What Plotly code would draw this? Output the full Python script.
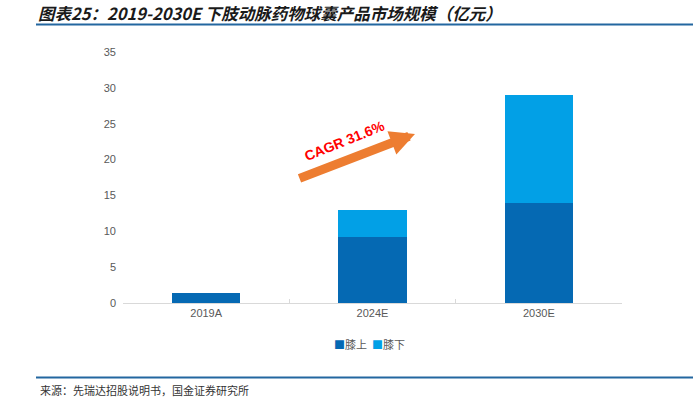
import plotly.graph_objects as go

categories = ["2019A", "2024E", "2030E"]
above_knee = [1.4, 9.2, 13.9]   # 膝上
below_knee = [0.0, 3.8, 15.1]   # 膝下
series_names = ["膝上", "膝下"]
colors = ["#0569B3", "#02A0E6"]
y_ticks = [0, 5, 10, 15, 20, 25, 30, 35]

title_text = "图表25：2019-2030E 下肢动脉药物球囊产品市场规模（亿元）"
source_text = "来源：先瑞达招股说明书，国金证券研究所"
cagr_text = "CAGR 31.6%"

W, H = 693, 398
L, R, T, B = 123, 71, 52, 95

fig = go.Figure()
fig.add_trace(go.Bar(x=categories, y=above_knee, name=series_names[0],
                     marker=dict(color=colors[0], line=dict(width=0)), showlegend=False))
fig.add_trace(go.Bar(x=categories, y=below_knee, name=series_names[1],
                     marker=dict(color=colors[1], line=dict(width=0)), showlegend=False))

tick_font = dict(family="Liberation Sans, Arial, sans-serif", size=11, color="#595959")

fig.update_layout(
    width=W, height=H,
    margin=dict(l=L, r=R, t=T, b=B, pad=0),
    barmode="stack",
    bargap=0.59,
    plot_bgcolor="white", paper_bgcolor="white",
    xaxis=dict(showline=True, linecolor="#D9D9D9", linewidth=1,
               ticks="inside", ticklen=4, tickcolor="#D9D9D9",
               tickson="boundaries", tickfont=tick_font, showgrid=False),
    yaxis=dict(range=[0, 35], tickvals=y_ticks, showgrid=False, zeroline=False,
               showline=False, tickfont=tick_font, ticks="", ticklabelstandoff=6),
)

def px2paper(px, py):
    return (px - L) / (W - L - R), (H - B - py) / (H - T - B)

# title
tx, ty = px2paper(36, 13)
fig.add_annotation(text="<b><i>" + title_text + "</i></b>", xref="paper", yref="paper",
                   x=tx, y=ty, xanchor="left", yanchor="middle", showarrow=False,
                   font=dict(family="Noto Sans CJK SC", size=16.5, color="#1a1a1a"))

# lines under title and above source
for ly in (24.5, 377.5):
    x0, y0 = px2paper(36, ly)
    x1, _ = px2paper(693, ly)
    fig.add_shape(type="line", xref="paper", yref="paper", x0=x0, x1=x1, y0=y0, y1=y0,
                  line=dict(color="#2367A0", width=2))

# source
sx, sy = px2paper(38, 390)
fig.add_annotation(text=source_text, xref="paper", yref="paper", x=sx, y=sy,
                   xanchor="left", yanchor="middle", showarrow=False,
                   font=dict(family="Noto Sans CJK SC", size=11, color="#333333"))

# legend as text
lx, ly = px2paper(369, 344)
legend_html = ("<span style='color:%s'>■</span>%s  <span style='color:%s'>■</span>%s"
               % (colors[0], series_names[0], colors[1], series_names[1]))
fig.add_annotation(text=legend_html, xref="paper", yref="paper", x=lx, y=ly,
                   xanchor="center", yanchor="middle", showarrow=False,
                   font=dict(family="Noto Sans CJK SC", size=11, color="#595959"))

# CAGR arrow
hx, hy = px2paper(415, 134)
fig.add_annotation(text="", xref="paper", yref="paper", x=hx, y=hy,
                   ax=-117, ay=45, showarrow=True, arrowhead=2, arrowsize=0.55,
                   arrowwidth=9, arrowcolor="#ED7D31", standoff=0)
cx, cy = px2paper(344, 141)
fig.add_annotation(text="<b>" + cagr_text + "</b>", xref="paper", yref="paper", x=cx, y=cy,
                   showarrow=False, textangle=-22,
                   font=dict(family="Liberation Sans, Arial, sans-serif", size=14, color="#FF0000"))

fig.write_html("out.html", config={"displayModeBar": False},
               post_script="document.body.style.margin='0';document.body.style.padding='0';")
